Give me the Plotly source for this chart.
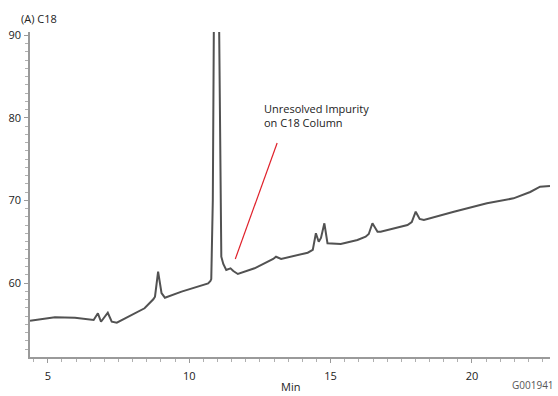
import plotly.graph_objects as go

# Retention time (min) and detector response
time_min = [4.37, 4.55, 5.25, 5.96, 6.62, 6.77, 6.88, 7.12, 7.26, 7.44, 7.96, 8.42,
            8.73, 8.79, 8.90, 9.02, 9.14, 9.73, 10.67, 10.75, 10.78, 10.835, 10.87,
            10.96, 11.06, 11.10, 11.12, 11.135, 11.205, 11.31, 11.46, 11.56, 11.72,
            12.31, 12.97, 13.07, 13.25, 14.19, 14.37, 14.48, 14.58, 14.66, 14.78,
            14.89, 15.36, 15.95, 16.24, 16.35, 16.48, 16.66, 16.77, 17.72, 17.87,
            18.01, 18.15, 18.30, 19.36, 20.53, 21.47, 22.06, 22.41, 22.76]
response = [55.44, 55.52, 55.85, 55.80, 55.52, 56.33, 55.31, 56.40, 55.31, 55.19, 56.13, 56.94,
            58.03, 58.34, 61.37, 58.79, 58.22, 58.95, 59.96, 60.24, 60.48, 70.05, 90.4,
            105.0, 90.4, 76.1, 65.2, 63.18, 62.30, 61.57, 61.78, 61.45, 61.09,
            61.78, 62.91, 63.18, 62.91, 63.67, 64.00, 66.02, 65.00, 65.45, 67.23,
            64.81, 64.72, 65.21, 65.61, 65.93, 67.23, 66.21, 66.21, 67.02, 67.38,
            68.63, 67.75, 67.63, 68.63, 69.65, 70.25, 71.02, 71.66, 71.74]

x_ticks = [5, 10, 15, 20]
y_ticks = [60, 70, 80, 90]

# annotation pointer (start/end in data units)
pointer_x = [13.11, 11.63]
pointer_y = [76.95, 62.91]

fig = go.Figure()
fig.add_trace(go.Scatter(x=time_min, y=response, mode="lines",
                         line=dict(color="#525252", width=2), hoverinfo="skip",
                         showlegend=False))

fig.add_shape(type="line", xref="x", yref="y",
              x0=pointer_x[0], y0=pointer_y[0], x1=pointer_x[1], y1=pointer_y[1],
              line=dict(color="#e0202a", width=1.2))

fig.add_annotation(x=12.56, y=82.3, xref="x", yref="y", xanchor="left", yanchor="top",
                   text="Unresolved Impurity<br>on C18 Column", showarrow=False, align="left",
                   font=dict(family="Open Sans", size=11, color="#222222"))

fig.add_annotation(x=-0.021, y=1.043, xref="paper", yref="paper", xanchor="left",
                   yanchor="middle", text="(A) C18", showarrow=False,
                   font=dict(family="Open Sans", size=11, color="#222222"))

fig.add_annotation(x=1.0115, y=-0.086, xref="paper", yref="paper", xanchor="right",
                   yanchor="middle", text="G001941", showarrow=False,
                   font=dict(family="Open Sans", size=10, color="#555555"))

fig.add_annotation(x=0.5, y=-0.092, xref="paper", yref="paper", xanchor="center",
                   yanchor="middle", text="Min", showarrow=False,
                   font=dict(family="Open Sans", size=11, color="#222222"))

axis_common = dict(showgrid=False, zeroline=False, showline=True, linecolor="#9a9a9a",
                   linewidth=1.5, ticks="outside", ticklen=4, tickcolor="#9a9a9a",
                   tickfont=dict(family="Open Sans", size=11, color="#222222"))

fig.update_xaxes(range=[4.369, 22.76], tickvals=x_ticks, ticktext=[str(v) for v in x_ticks],
                 minor=dict(dtick=0.5, ticks="outside", ticklen=3, tickcolor="#b0b0b0"),
                 ticklabelstandoff=4, **axis_common)
fig.update_yaxes(range=[51.04, 90.39], tickvals=y_ticks, ticktext=[str(v) for v in y_ticks],
                 minor=dict(dtick=1, ticks="outside", ticklen=3, tickcolor="#b0b0b0"),
                 ticklabelstandoff=1, **axis_common)

fig.update_layout(width=558, height=396, margin=dict(l=28, r=8, t=32, b=39),
                  paper_bgcolor="white", plot_bgcolor="white")

fig.write_html("out.html")
